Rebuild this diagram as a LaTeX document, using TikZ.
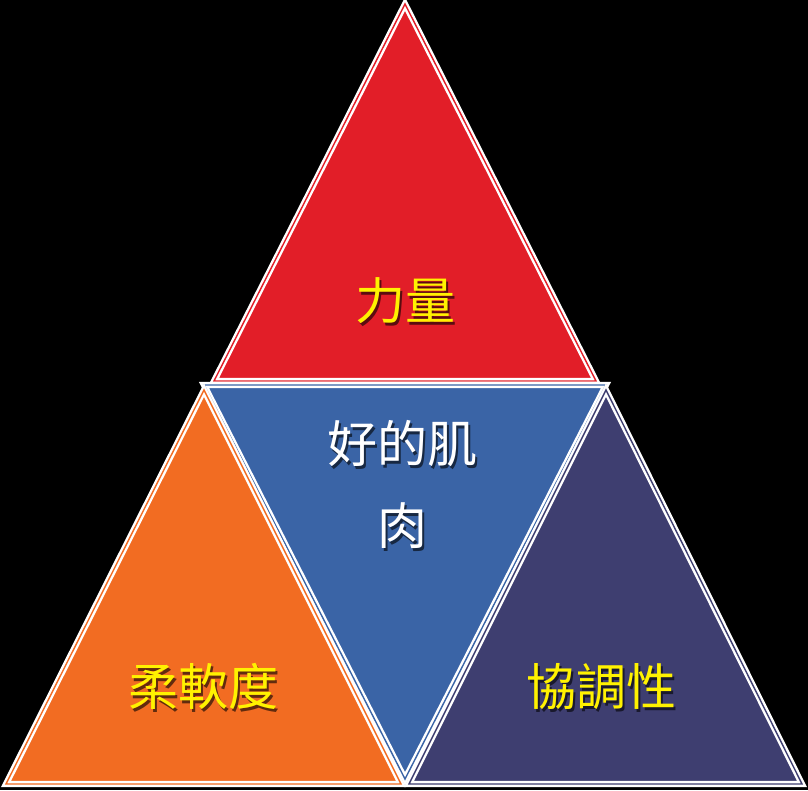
\documentclass[tikz,border=0pt]{standalone}
\usepackage{fontspec}
\newfontfamily\cjk{Noto Sans CJK TC}
\usetikzlibrary{calc}
\usetikzlibrary{positioning}
\definecolor{powerred}{RGB}{226,30,40}
\definecolor{musclebl}{RGB}{58,100,166}
\definecolor{flexor}{RGB}{242,108,34}
\definecolor{coordsl}{RGB}{62,62,112}
\definecolor{labelyel}{RGB}{255,242,0}
\newcommand{\shadowed}[2]{\makebox[0pt][l]{\hspace{2.5pt}\raisebox{-2.5pt}{\textcolor{#1}{#2}}}#2}
\tikzset{
  tri/.style={draw=white,line width=2.4pt,double distance=1.4pt,line join=miter},
  lbl/.style={inner sep=0pt,font=\cjk\fontsize{50}{82}\selectfont,align=center}
}
\begin{document}
\begin{tikzpicture}[x=1pt,y=-1pt]
      \fill[black] (0,0) rectangle (808,790);
      \useasboundingbox (0,0) rectangle (808,790);
      \coordinate (top) at (405,4);
      \coordinate (redL) at (214,381);
      \coordinate (redR) at (596,381);
      \coordinate (midL) at (204,385);
      \coordinate (midR) at (606,385);
      \coordinate (midB) at (405,779);
      \coordinate (orgT) at (204,390);
      \coordinate (orgL) at (6,784);
      \coordinate (orgR) at (401,784);
      \coordinate (slT) at (606,390);
      \coordinate (slL) at (409,784);
      \coordinate (slR) at (802,784);
      \draw[tri,fill=powerred,double=powerred] (top) -- (redL) -- (redR) -- cycle;
      \draw[tri,fill=musclebl,double=musclebl] (midL) -- (midR) -- (midB) -- cycle;
      \draw[tri,fill=flexor,double=flexor] (orgT) -- (orgL) -- (orgR) -- cycle;
      \draw[tri,fill=coordsl,double=coordsl] (slT) -- (slL) -- (slR) -- cycle;
      \node[lbl,text=labelyel] (power) at (405,302) {\shadowed{powerred!40!black}{力量}};
      \node[lbl,text=white] (muscle) at (402,486) {\shadowed{musclebl!40!black}{好的肌}\\\shadowed{musclebl!40!black}{肉}};
      \node[lbl,text=labelyel] (flex) at (203,688) {\shadowed{flexor!40!black}{柔軟度}};
      \node[lbl,text=labelyel] (coord) at (601,688) {\shadowed{coordsl!40!black}{協調性}};
    \end{tikzpicture}
\end{document}
